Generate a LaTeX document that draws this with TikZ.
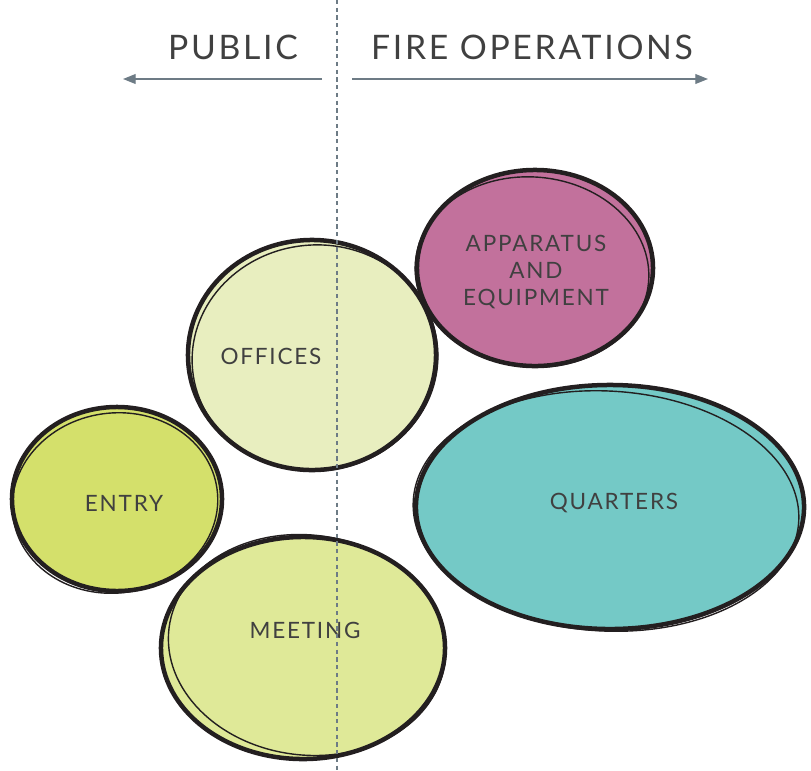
\documentclass[tikz,border=0pt]{standalone}
\usepackage{fontspec}
\setmainfont{Lato}[LetterSpace=8]
\usetikzlibrary{positioning,shapes.geometric,arrows.meta}

\definecolor{inkline}{HTML}{231F20}
\definecolor{labelgray}{HTML}{404040}
\definecolor{guidegray}{HTML}{6D7B85}
\definecolor{officefill}{HTML}{E8EEBF}
\definecolor{apparatusfill}{HTML}{C2719C}
\definecolor{entryfill}{HTML}{D4E06B}
\definecolor{quartersfill}{HTML}{74C9C6}
\definecolor{meetingfill}{HTML}{DFE998}

\tikzset{
  bubble/.style={ellipse,draw=inkline,line width=3.2pt,inner sep=0pt},
  sketch/.style={draw=inkline,line width=1pt},
  bubbletext/.style={text=labelgray,font=\fontsize{16}{19.5}\selectfont,align=center},
  headtext/.style={text=labelgray,font=\fontsize{24}{28}\selectfont},
  guide/.style={guidegray,line width=0.9pt,-{Triangle[length=9pt,width=7pt]}}
}

\begin{document}
\begin{tikzpicture}[x=0.025cm,y=-0.025cm]
  \useasboundingbox (0,0) rectangle (811,771);

  % Bubbles
  \node[bubble,fill=officefill,minimum width=6.2cm,minimum height=5.75cm] (offices) at (312,355) {};
  \draw[sketch] (offices.center) ++(3,3) ellipse[x radius=123, y radius=113, rotate=6];

  \node[bubble,fill=apparatusfill,minimum width=5.9cm,minimum height=4.9cm] (apparatus) at (535,268) {};
  \draw[sketch] (apparatus.center) ++(-3,4) ellipse[x radius=117, y radius=95, rotate=-5];

  \node[bubble,fill=entryfill,minimum width=5.25cm,minimum height=4.6cm] (entry) at (117,499) {};
  \draw[sketch] (entry.center) ++(-2,4) ellipse[x radius=103, y radius=90, rotate=8];

  \node[bubble,fill=quartersfill,minimum width=9.7cm,minimum height=6.1cm] (quarters) at (610,507) {};
  \draw[sketch] (quarters.center) ++(-4,4) ellipse[x radius=193, y radius=120, rotate=-3];

  \node[bubble,fill=meetingfill,minimum width=7.1cm,minimum height=5.55cm] (meeting) at (303,648) {};
  \draw[sketch] (meeting.center) ++(4,-3) ellipse[x radius=139, y radius=110, rotate=-7];

  % Labels
  \node[bubbletext] (officeslabel) at (271,356) {OFFICES};
  \node[bubbletext] (apparatuslabel) at (536,272) {APPARATUS\\AND\\EQUIPMENT};
  \node[bubbletext] (entrylabel) at (124,503) {ENTRY};
  \node[bubbletext] (quarterslabel) at (614,503) {QUARTERS};
  \node[bubbletext] (meetinglabel) at (305,630) {MEETING};

  % Divider and sides
  \coordinate (divtop) at (337,0);
  \coordinate (divbot) at (337,771);
  \draw[guidegray,line width=1.1pt,dash pattern=on 3pt off 2.5pt] (divtop) -- (divbot);

  \node[headtext] (public) at (233,47) {PUBLIC};
  \node[headtext] (fireops) at (532,47) {FIRE OPERATIONS};

  \coordinate (pubstart) at (322,79);
  \coordinate (pubend) at (123,79);
  \coordinate (firestart) at (352,79);
  \coordinate (fireend) at (708,79);
  \draw[guide] (pubstart) -- (pubend);
  \draw[guide] (firestart) -- (fireend);
\end{tikzpicture}
\end{document}
